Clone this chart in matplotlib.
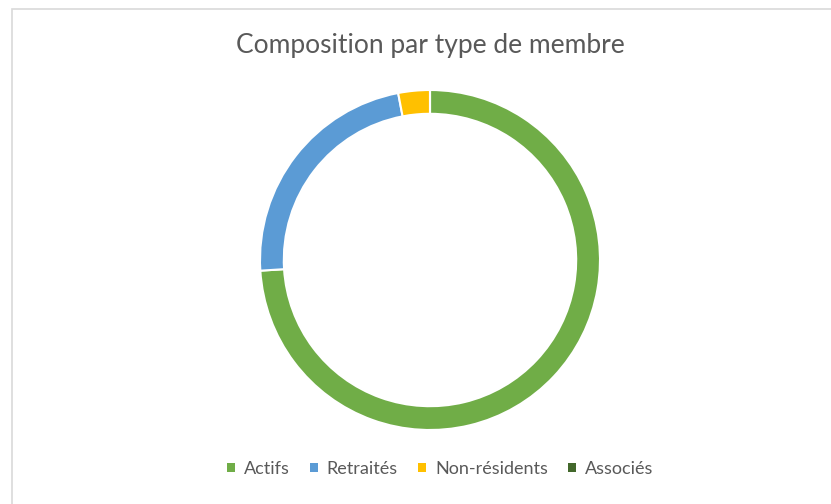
import matplotlib
matplotlib.use("Agg")
import matplotlib.pyplot as plt
from matplotlib.patches import Rectangle

# ===== data =====
labels = ["Actifs", "Retraités", "Non-résidents", "Associés"]
values = [74.0, 23.0, 3.0, 0.0]
colors = ["#70AD47", "#5B9BD5", "#FFC000", "#43682B"]
title = "Composition par type de membre"

plt.rcParams["font.family"] = ["Lato", "DejaVu Sans"]
text_col = "#595959"

fig = plt.figure(figsize=(8.31, 5.04), dpi=100)
fig.patch.set_facecolor("white")

# light chart-area border (Excel style)
fig.add_artist(Rectangle((12 / 831, -0.01), 1.0, 1 - 8.5 / 504 + 0.01,
                         transform=fig.transFigure, fill=False,
                         edgecolor="#D9D9D9", linewidth=1.2))

# donut: centre ~ (430, 260), outer radius ~170 px
r_px = 170
cx, cy = 430, 260
ax = fig.add_axes([(cx - r_px) / 831, 1 - (cy + r_px) / 504,
                   2 * r_px / 831, 2 * r_px / 504])
wedges, _ = ax.pie(values, colors=colors, startangle=90, counterclock=False,
                   radius=1.0,
                   wedgeprops=dict(width=0.14, edgecolor="white", linewidth=1.5))
ax.set_aspect("equal")
ax.set_xlim(-1, 1)
ax.set_ylim(-1, 1)
ax.axis("off")

fig.text(430 / 831, 1 - 46 / 504, title, ha="center", va="center",
         fontsize=19, color=text_col)

leg = fig.legend(wedges, labels, loc="center", bbox_to_anchor=(440 / 831, 1 - 469 / 504),
                 ncol=4, frameon=False, fontsize=13, handlelength=0.45,
                 handleheight=0.45, handletextpad=0.5, columnspacing=1.1,
                 labelcolor=text_col)
for h in leg.legend_handles:
    h.set_edgecolor("none")

fig.savefig("out.png", dpi=100, facecolor="white")
